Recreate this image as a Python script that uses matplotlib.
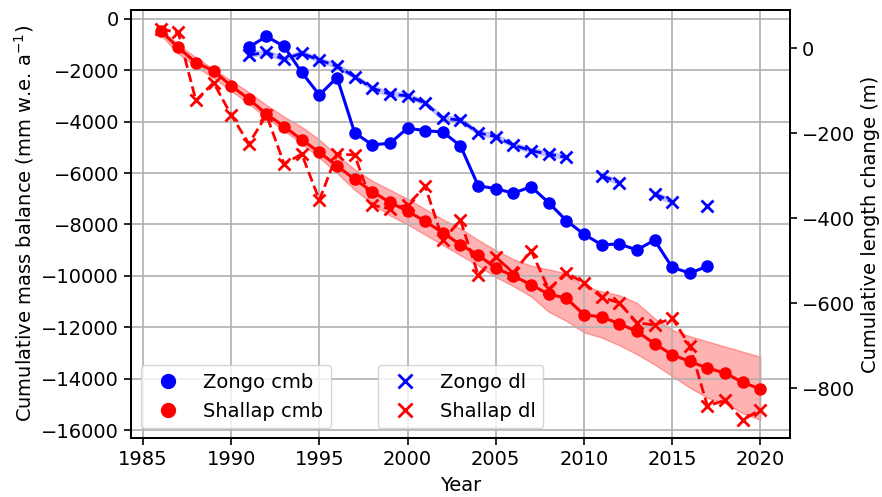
import numpy as np
import matplotlib
matplotlib.use("Agg")
import matplotlib.pyplot as plt
from matplotlib.lines import Line2D

# ---- data ----
zongo_cmb_years = list(range(1991, 2018))
zongo_cmb = [-1100, -680, -1070, -2080, -2960, -2280, -4430, -4900, -4840,
             -4250, -4350, -4400, -4940, -6490, -6610, -6780, -6530, -7150,
             -7850, -8380, -8790, -8760, -8990, -8610, -9670, -9890, -9630]

zongo_dl_years = list(range(1991, 2018))
zongo_dl = [-16, -10, -26, -12, -28, -42, -67, -94, -108,
            -112, -129, -165, -169, -199, -208, -228, -241, -249,
            -257, np.nan, -300, -316, np.nan, -343, -361, np.nan, -371]

shallap_years = list(range(1986, 2021))
shallap_cmb = [-470, -1110, -1700, -2020, -2600, -3120, -3700, -4190, -4700,
               -5190, -5720, -6240, -6720, -7140, -7480, -7880, -8320, -8790,
               -9180, -9700, -10000, -10350, -10710, -10870, -11510, -11600,
               -11860, -12160, -12640, -13070, -13330, -13590, -13780, -14150,
               -14400]
shallap_cmb_upper = [-380, -1000, -1500, -1950, -2400, -2850, -3350, -3800, -4200,
                     -4700, -5300, -5850, -6300, -6650, -7000, -7400, -7800, -8150,
                     -8600, -9000, -9350, -9600, -9750, -9900, -10400, -10600,
                     -10750, -11050, -11650, -12100, -12350, -12550, -12750, -12950,
                     -13150]
shallap_cmb_lower = [-620, -1350, -1850, -2300, -2800, -3300, -3850, -4350, -4850,
                     -5400, -6000, -6650, -7200, -7650, -8000, -8400, -8800, -9200,
                     -9600, -10050, -10400, -10800, -11400, -11750, -12200, -12400,
                     -12700, -13050, -13450, -13900, -14350, -14750, -14950, -15350,
                     -15600]
shallap_dl = [45, 37, -123, -81, -157, -225, -157, -272, -249,
              -357, -249, -251, -369, -378, -369, -325, -451, -405,
              -533, -492, -528, -476, -567, -528, -552, -586, -599,
              -646, -651, -635, -700, -842, -828, -875, -850]

zongo_dl_err = 7

x_ticks = list(range(1985, 2021, 5))
left_ticks = list(range(-16000, 1, 2000))
right_ticks = list(range(-800, 1, 200))

# ---- figure ----
plt.rcParams['font.family'] = ['DejaVu Sans']
plt.rcParams['font.size'] = 14

fig = plt.figure(figsize=(8.82, 4.97), dpi=100)
ax1 = fig.add_axes([0.1485, 0.1187, 0.8957 - 0.1485, 0.980 - 0.1187])
ax2 = ax1.twinx()

ax1.fill_between(shallap_years, shallap_cmb_lower, shallap_cmb_upper,
                 color='red', alpha=0.3)
ax1.plot(zongo_cmb_years, zongo_cmb, '-o', color='blue', lw=2.2, ms=8)
ax1.plot(shallap_years, shallap_cmb, '-o', color='red', lw=2.2, ms=8)

zdl = np.array(zongo_dl, dtype=float)
ax2.fill_between(zongo_dl_years, zdl - zongo_dl_err, zdl + zongo_dl_err,
                 color='blue', alpha=0.25, linewidth=0)
ax2.plot(zongo_dl_years, zongo_dl, '--x', color='blue', lw=2.0, ms=9, mew=2)
ax2.plot(shallap_years, shallap_dl, '--x', color='red', lw=2.0, ms=9, mew=2)

ax1.set_xlim(1984.32, 2021.68)
ax1.set_ylim(-16311, 350)
ax2.set_ylim(-917, 90)
ax1.set_xticks(x_ticks)
ax1.set_yticks(left_ticks)
ax2.set_yticks(right_ticks)
ax1.grid(True, color='#b0b0b0', lw=1.2)

ax1.set_xlabel('Year', labelpad=5)
ax1.set_ylabel('Cumulative mass balance (mm w.e. a$^{-1}$)')
ax2.set_ylabel('Cumulative length change (m)')

for ax in (ax1, ax2):
    for s in ax.spines.values():
        s.set_linewidth(1.3)
    ax.tick_params(width=1.2, length=5)

h1 = [Line2D([], [], ls='none', marker='o', color='blue', ms=10),
      Line2D([], [], ls='none', marker='o', color='red', ms=10)]
h2 = [Line2D([], [], ls='none', marker='x', color='blue', ms=10, mew=2),
      Line2D([], [], ls='none', marker='x', color='red', ms=10, mew=2)]
leg1 = ax2.legend(h1, ['Zongo cmb', 'Shallap cmb'], loc='lower left', fontsize=14)
ax2.add_artist(leg1)
ax2.legend(h2, ['Zongo dl', 'Shallap dl'], loc='lower center', fontsize=14)

fig.savefig('out.png', dpi=100)
